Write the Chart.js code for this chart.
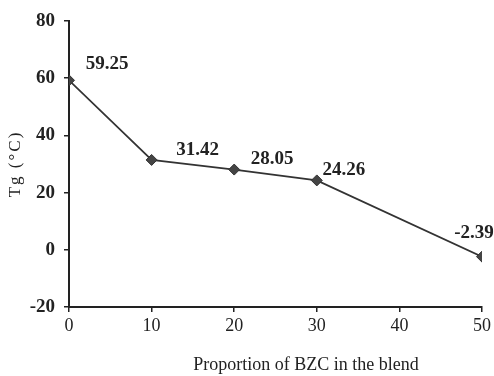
<!DOCTYPE html>
<html>
<head>
<meta charset="utf-8">
<script src="https://cdn.jsdelivr.net/npm/chart.js@4"></script>
<style>
  html, body { margin: 0; padding: 0; background: #fff; }
  #wrap { width: 494px; height: 376px; }
</style>
</head>
<body>
<div id="wrap"><canvas id="tgChart" width="494" height="376"></canvas></div>
<script>
// BZC proportion (%) vs glass transition temperature
const proportions = [0, 10, 20, 30, 50];
const tgValues = [59.25, 31.42, 28.05, 24.26, -2.39];
const xTicks = [0, 10, 20, 30, 40, 50];
const yTicks = [-20, 0, 20, 40, 60, 80];

const ink = '#222';
const serif = "'Liberation Serif', 'Times New Roman', serif";

// value labels, nudged off each point (px)
const labelNudge = [[38, -16], [46, -10], [38, -10], [27, -10], [-8, -24]];

const valueLabels = {
    id: 'valueLabels',
    afterDatasetsDraw(chart) {
        const ctx = chart.ctx;
        const pts = chart.getDatasetMeta(0).data;
        ctx.save();
        ctx.font = 'bold 19px ' + serif;
        ctx.fillStyle = ink;
        ctx.textAlign = 'center';
        ctx.textBaseline = 'middle';
        pts.forEach((p, i) => {
            ctx.fillText(tgValues[i].toFixed(2), p.x + labelNudge[i][0], p.y + labelNudge[i][1]);
        });
        ctx.restore();
    }
};

const axisTitles = {
    id: 'axisTitles',
    afterDraw(chart) {
        const ctx = chart.ctx, area = chart.chartArea;
        ctx.save();
        ctx.fillStyle = ink;
        ctx.textAlign = 'center';
        ctx.textBaseline = 'middle';
        ctx.font = '18px ' + serif;
        ctx.fillText('Proportion of BZC in the blend', area.left + 237, 365);
        ctx.translate(16, (area.top + area.bottom) / 2);
        ctx.rotate(-Math.PI / 2);
        ctx.font = '17px ' + serif;
        ctx.letterSpacing = '2px';
        ctx.fillText('Tg (\u00B0C)', 0, 0);
        ctx.restore();
    }
};

new Chart(document.getElementById('tgChart'), {
    type: 'line',
    data: {
        datasets: [{
            data: proportions.map((x, i) => ({ x: x, y: tgValues[i] })),
            borderColor: '#333',
            borderWidth: 1.8,
            pointStyle: 'rectRot',
            pointRadius: 5.5,
            pointBackgroundColor: '#444',
            pointBorderColor: '#333',
            pointBorderWidth: 1,
            tension: 0
        }]
    },
    options: {
        responsive: false,
        animation: false,
        layout: { padding: { top: 21, right: 12, left: 0, bottom: 0 } },
        plugins: { legend: { display: false }, tooltip: { enabled: false } },
        scales: {
            x: {
                type: 'linear',
                min: 0, max: 50,
                afterFit: s => { s.height = 69; },
                afterBuildTicks: s => { s.ticks = xTicks.map(v => ({ value: v })); },
                grid: { drawOnChartArea: false, drawTicks: true, tickLength: 5, color: ink, lineWidth: 1.5 },
                border: { color: ink, width: 2 },
                ticks: { color: ink, font: { family: serif, size: 18 }, padding: 3, maxRotation: 0 }
            },
            y: {
                min: -20, max: 80,
                afterFit: s => { s.width = 69; },
                afterBuildTicks: s => { s.ticks = yTicks.map(v => ({ value: v })); },
                grid: { drawOnChartArea: false, drawTicks: true, tickLength: 5, color: ink, lineWidth: 1.5 },
                border: { color: ink, width: 2 },
                ticks: { color: ink, font: { family: serif, size: 19, weight: 'bold' }, padding: 9 }
            }
        }
    },
    plugins: [valueLabels, axisTitles]
});
</script>
</body>
</html>
